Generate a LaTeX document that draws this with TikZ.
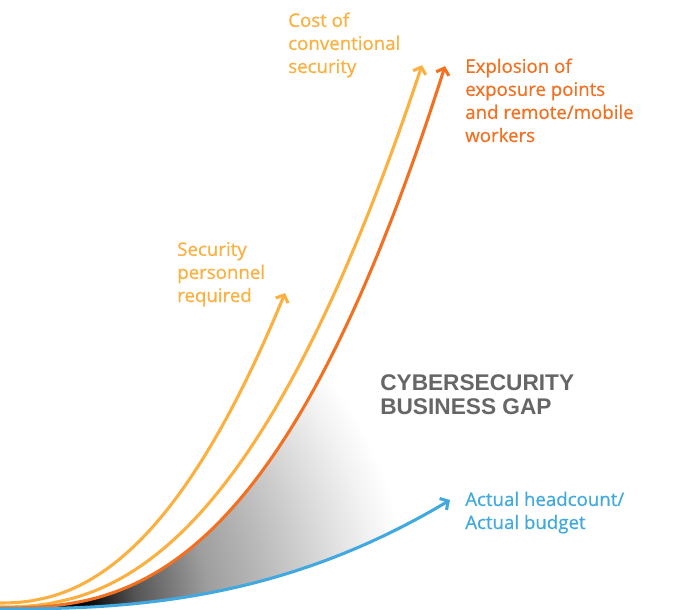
\documentclass[tikz,border=0pt]{standalone}
\usepackage{fontspec}
\setmainfont{Open Sans}[UprightFeatures={FakeBold=0.6}]
\newfontfamily\gapfont{Liberation Sans}
\usetikzlibrary{arrows.meta}
\definecolor{cyel}{HTML}{FBB040}
\definecolor{corg}{HTML}{F37021}
\definecolor{cblu}{HTML}{41A9E0}
\definecolor{cgry}{HTML}{666666}
\pgfdeclareradialshading{gapshade}{\pgfpoint{0bp}{0bp}}{color(0bp)=(black); color(3.75bp)=(black); color(6.9bp)=(black!67); color(11.25bp)=(black!38); color(14.7bp)=(black!27); color(18.75bp)=(black!13); color(21.25bp)=(black!5); color(23.1bp)=(white); color(25bp)=(white); color(50bp)=(white)}
\begin{document}
\begin{tikzpicture}[x=0.75pt,y=-0.75pt,
  curve/.style={line width=2.3pt, -{Straight Barb[length=4.5pt,width=10pt]}},
  lbl/.style={inner sep=0pt, anchor=base west, align=left, font=\fontsize{14}{17.3}\selectfont}]
\useasboundingbox[fill=white] (0,0) rectangle (683,610);
\begin{scope}
\clip plot[domain=0.01:445, samples=90] (\x, {608-542*pow(\x/445,2.6)})
  -- plot[domain=450:0.01, samples=90] (\x, {609-109*pow(\x/450,2.5)}) -- cycle;
\shade[shading=gapshade] (20,610) circle (420);
\end{scope}
\draw[curve, cyel] plot[domain=0.01:285, samples=70] (\x, {603-310*pow(\x/285,2.25)});
\draw[curve, cyel] plot[domain=0.01:422, samples=90] (\x, {607-542*pow(\x/422,2.35)});
\draw[curve, corg] plot[domain=0.01:445, samples=90] (\x, {608-542*pow(\x/445,2.6)});
\draw[curve, cblu] plot[domain=0.01:450, samples=90] (\x, {609-109*pow(\x/450,2.5)});
\node[lbl, text=cyel] (cost) at (288,73) {Cost of\\conventional\\security};
\node[lbl, text=corg] (expl) at (465,142) {Explosion of\\exposure points\\and remote/mobile\\workers};
\node[lbl, text=cyel] (pers) at (177,302) {Security\\personnel\\required};
\node[lbl, text=cblu] (act) at (465,529) {Actual headcount/\\Actual budget};
\node[lbl, text=cgry, font=\gapfont\bfseries\fontsize{17}{18}\selectfont] (gap) at (380,414) {CYBERSECURITY\\BUSINESS GAP};
\end{tikzpicture}
\end{document}
